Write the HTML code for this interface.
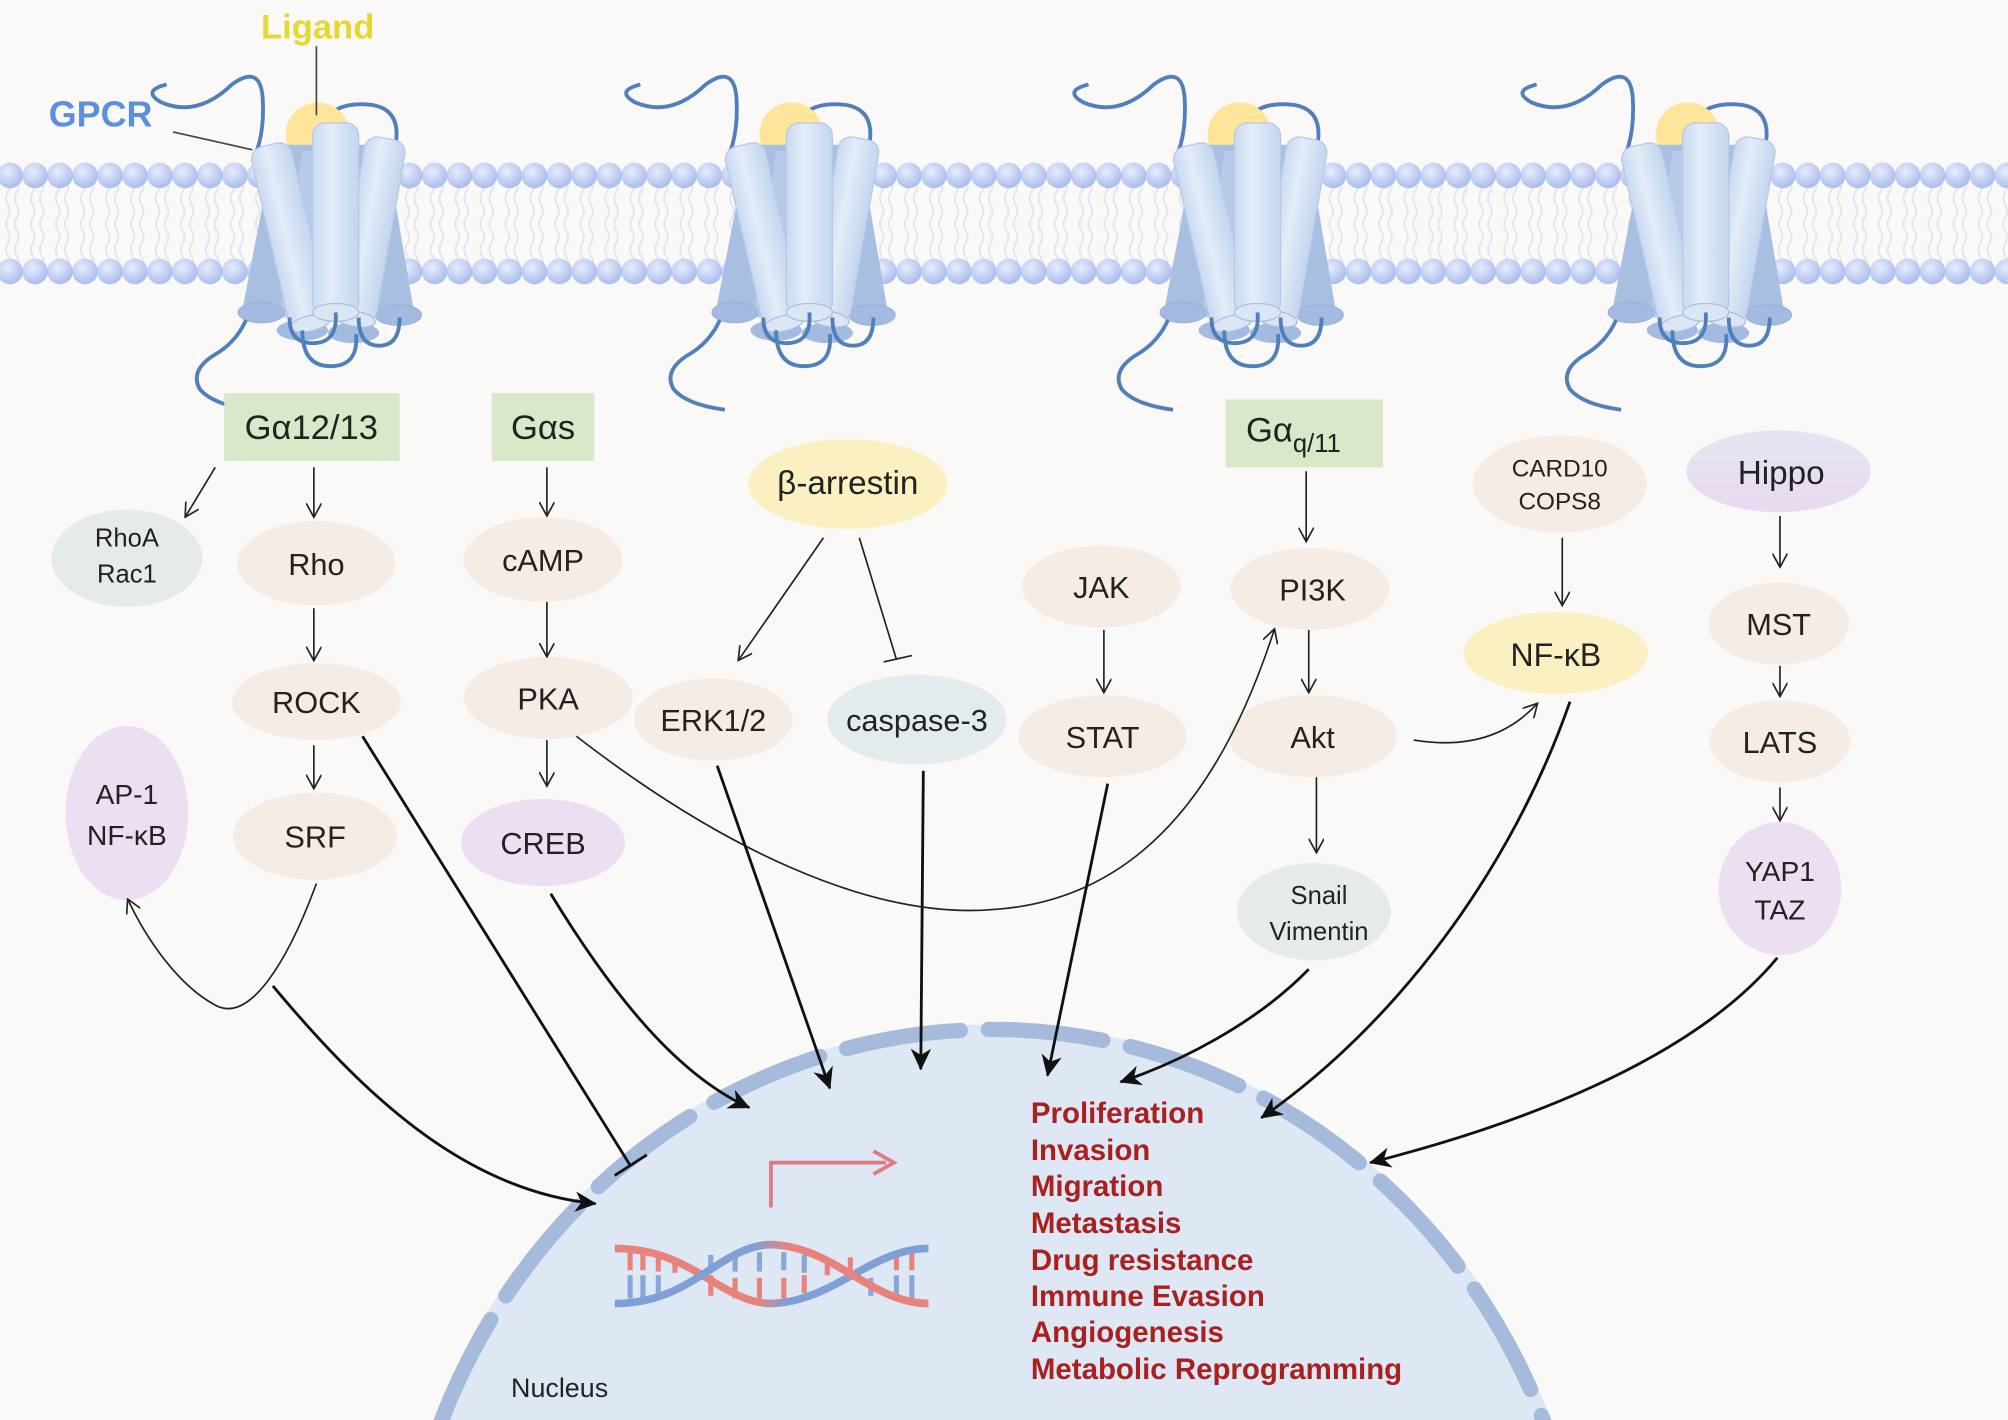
<!DOCTYPE html>
<html><head><meta charset="utf-8"><style>
html,body{margin:0;padding:0;background:#faf9f7;overflow:hidden;width:2008px;height:1420px;}
svg{display:block;overflow:hidden}
text{font-family:"Liberation Sans",Arial,sans-serif;}
</style></head><body>
<svg width="2008" height="1420" viewBox="0 0 1568 1109" xmlns="http://www.w3.org/2000/svg">
<defs>
<clipPath id="frame"><rect x="0" y="0" width="1568" height="1109"/></clipPath>
<radialGradient id="head" cx="40%" cy="35%" r="65%"><stop offset="0" stop-color="#e6edfd"/><stop offset="1" stop-color="#aabdec"/></radialGradient>
<pattern id="tails" x="0" y="0" width="19.5" height="60" patternUnits="userSpaceOnUse">
<path d="M6,0 q3,5 0,10 q-3,5 0,10 q3,5 0,10 q-3,5 0,10 q3,5 0,10 q-3,5 0,10" fill="none" stroke="#dfe3ee" stroke-width="1.3"/>
<path d="M13,0 q3,5 0,10 q-3,5 0,10 q3,5 0,10 q-3,5 0,10 q3,5 0,10 q-3,5 0,10" fill="none" stroke="#dfe3ee" stroke-width="1.3"/>
</pattern>
<pattern id="heads" x="-2" y="0" width="19.5" height="75" patternUnits="userSpaceOnUse">
<circle cx="9.75" cy="62" r="10" fill="url(#head)"/>
</pattern>
<linearGradient id="cyl" x1="0" x2="1"><stop offset="0" stop-color="#c9daf0"/><stop offset="0.4" stop-color="#e3ecf8"/><stop offset="1" stop-color="#c3d5ee"/></linearGradient>
<linearGradient id="hippo" x1="0" x2="0" y1="0" y2="1"><stop offset="0" stop-color="#e4e6f2"/><stop offset="1" stop-color="#e9d9ef"/></linearGradient>
<linearGradient id="dnaA" x1="0" x2="1"><stop offset="0" stop-color="#e8837c"/><stop offset="0.45" stop-color="#e8837c"/><stop offset="0.55" stop-color="#7f9fd6"/><stop offset="1" stop-color="#7f9fd6"/></linearGradient>
<linearGradient id="dnaB" x1="0" x2="1"><stop offset="0" stop-color="#7f9fd6"/><stop offset="0.45" stop-color="#7f9fd6"/><stop offset="0.55" stop-color="#e8837c"/><stop offset="1" stop-color="#e8837c"/></linearGradient>
<marker id="a" markerWidth="12" markerHeight="12" refX="10" refY="6" orient="auto" markerUnits="userSpaceOnUse"><path d="M0,0 L11,6 L0,12" fill="none" stroke="#222" stroke-width="1.3"/></marker>
<marker id="A" markerWidth="18" markerHeight="16" refX="16" refY="8" orient="auto" markerUnits="userSpaceOnUse"><path d="M0,0 L17,8 L0,16 L5,8 Z" fill="#111"/></marker>
<g id="rec">
 <path d="M-126,-62 q-20,5 -4,14 q28,12 55,-14 q22,-16 24,10 q2,30 -8,50" fill="none" stroke="#4f80bb" stroke-width="3"/>
 <path d="M-5,-30 q10,-20 40,-16 q22,4 18,30" fill="none" stroke="#4f80bb" stroke-width="3"/>
 <circle cx="-8" cy="-23" r="25" fill="#fde59a"/>
 <polygon points="-42,-15 45,-15 68,120 -68,120" fill="#a8bfe2"/>
 <polygon points="-20,-10 20,-10 40,120 -38,120" fill="#b7cbe8"/>
 <ellipse cx="-52" cy="116" rx="18" ry="8" fill="#a3bbe0" stroke="#9ab2da"/>
 <ellipse cx="55" cy="118" rx="18" ry="8" fill="#a3bbe0" stroke="#9ab2da"/>
 <ellipse cx="-20" cy="130" rx="20" ry="8" fill="#a3bbe0"/>
 <ellipse cx="20" cy="132" rx="20" ry="8" fill="#a3bbe0"/>
 <g transform="rotate(-13 -45 -15)"><rect x="-62" y="-15" width="32" height="145" rx="10" fill="url(#cyl)" stroke="#b6c9e6"/><ellipse cx="-46" cy="128" rx="16" ry="6" fill="#dbe6f5" stroke="#a9bfe0"/></g>
 <g transform="rotate(10 45 -20)"><rect x="30" y="-20" width="32" height="145" rx="10" fill="url(#cyl)" stroke="#b6c9e6"/><ellipse cx="46" cy="123" rx="16" ry="6" fill="#dbe6f5" stroke="#a9bfe0"/></g>
 <rect x="-12" y="-32" width="36" height="150" rx="10" fill="url(#cyl)" stroke="#b6c9e6"/>
 <ellipse cx="6" cy="116" rx="18" ry="7" fill="#dbe6f5" stroke="#a9bfe0"/>
 <path d="M-30,120 q0,20 18,20 q20,0 18,-24" fill="none" stroke="#4f80bb" stroke-width="3"/>
 <path d="M-20,130 q0,28 22,28 q22,0 20,-25" fill="none" stroke="#4f80bb" stroke-width="3"/>
 <path d="M24,120 q0,22 16,22 q16,0 16,-22" fill="none" stroke="#4f80bb" stroke-width="3"/>
 <path d="M-64,122 q-8,18 -26,28 q-18,12 -10,26 q10,12 40,16" fill="none" stroke="#4f80bb" stroke-width="3"/>
</g>
</defs>
<rect width="1568" height="1109" fill="#faf9f7"/>
<!-- membrane -->
<rect x="0" y="145" width="1568" height="62" fill="url(#tails)"/>
<rect x="0" y="125" width="1568" height="100" fill="url(#heads)"/>
<!-- receptors -->
<use href="#rec" x="256" y="128"/>
<use href="#rec" x="626" y="128"/>
<use href="#rec" x="976" y="128"/>
<use href="#rec" x="1326" y="128"/>
<!-- labels top -->
<text x="248" y="30" font-size="27" font-weight="bold" fill="#e6d735" text-anchor="middle">Ligand</text>
<line x1="247" y1="36" x2="247" y2="90" stroke="#444" stroke-width="1.3"/>
<text x="38" y="99" font-size="28" font-weight="bold" fill="#5b8fe2">GPCR</text>
<line x1="135" y1="103" x2="197" y2="117" stroke="#444" stroke-width="1.3"/>
<!-- nucleus -->
<g clip-path="url(#frame)">
<ellipse cx="775" cy="1292" rx="470" ry="492" fill="#dde8f4"/>
<ellipse cx="775" cy="1292" rx="464" ry="488" fill="none" stroke="#a6bbdc" stroke-width="12" stroke-dasharray="90 22" stroke-linecap="round"/>
</g>
<text x="399" y="1091" font-size="21" fill="#222">Nucleus</text>
<!-- DNA -->
<g stroke-width="4">
 <g stroke="#e8837c"><path d="M492,978v14M502,978v14M514,980v13M527,984v10M646,982v14M664,982v14M700,978v14M712,978v14M555,996v16M574,998v16M593,998v16M612,998v16M628,996v14"/></g>
 <g stroke="#8aa5d8"><path d="M492,996v18M502,996v18M514,996v16M555,980v14M574,978v15M593,978v15M612,978v14M628,980v14M680,998v14M700,996v18M712,996v18"/></g>
</g>
<path d="M480,975 C540,975 560,1015 600,1018 C650,1018 680,975 725,975" fill="none" stroke="url(#dnaA)" stroke-width="6"/>
<path d="M480,1018 C540,1018 560,975 600,972 C650,972 680,1018 725,1018" fill="none" stroke="url(#dnaB)" stroke-width="6"/>
<path d="M602,943 V908 H692" fill="none" stroke="#e07a85" stroke-width="3"/>
<path d="M682,899 L698,908 L682,917" fill="none" stroke="#e07a85" stroke-width="3"/>
<!-- outcomes -->
<g font-size="23" font-weight="bold" fill="#a8201f">
<text x="805" y="877">Proliferation</text>
<text x="805" y="906">Invasion</text>
<text x="805" y="934">Migration</text>
<text x="805" y="963">Metastasis</text>
<text x="805" y="992">Drug resistance</text>
<text x="805" y="1020">Immune Evasion</text>
<text x="805" y="1048">Angiogenesis</text>
<text x="805" y="1077">Metabolic Reprogramming</text>
</g>
<!-- G proteins -->
<rect x="175" y="307" width="137" height="53" fill="#d8e8c9"/>
<text x="243" y="343" font-size="27" text-anchor="middle" fill="#222">Gα12/13</text>
<rect x="384" y="307" width="80" height="53" fill="#d8e8c9"/>
<text x="424" y="343" font-size="27" text-anchor="middle" fill="#222">Gαs</text>
<rect x="957" y="312" width="123" height="53" fill="#d8e8c9"/>
<text x="973" y="345" font-size="27" fill="#222">Gα<tspan font-size="20" dy="8">q/11</tspan></text>
<!-- nodes -->
<g fill="#222" font-size="24" text-anchor="middle">
<ellipse cx="662" cy="378" rx="78" ry="35" fill="#fbf0c2"/><text x="662" y="386" font-size="26">β-arrestin</text>
<ellipse cx="99" cy="436" rx="59" ry="38" fill="#e5ebea"/><text x="99" y="427" font-size="20">RhoA</text><text x="99" y="455" font-size="20">Rac1</text>
<ellipse cx="247" cy="440" rx="62" ry="33" fill="#f6ece6"/><text x="247" y="449">Rho</text>
<ellipse cx="424" cy="437" rx="62" ry="33" fill="#f6ece6"/><text x="424" y="446">cAMP</text>
<ellipse cx="860" cy="458" rx="62" ry="32" fill="#f6ece6"/><text x="860" y="467">JAK</text>
<ellipse cx="1023" cy="460" rx="62" ry="32" fill="#f6ece6"/><text x="1025" y="469">PI3K</text>
<ellipse cx="1218" cy="378" rx="68" ry="38" fill="#f6ece6"/><text x="1218" y="372" font-size="19">CARD10</text><text x="1218" y="398" font-size="19">COPS8</text>
<ellipse cx="1389" cy="368" rx="72" ry="32" fill="url(#hippo)"/><text x="1391" y="378" font-size="26">Hippo</text>
<ellipse cx="1215" cy="510" rx="72" ry="32" fill="#fbf0c2"/><text x="1215" y="520" font-size="25">NF-κB</text>
<ellipse cx="1389" cy="487" rx="55" ry="32" fill="#f6ece6"/><text x="1389" y="496">MST</text>
<ellipse cx="247" cy="548" rx="66" ry="30" fill="#f6ece6"/><text x="247" y="557">ROCK</text>
<ellipse cx="428" cy="545" rx="66" ry="32" fill="#f6ece6"/><text x="428" y="554">PKA</text>
<ellipse cx="557" cy="562" rx="62" ry="32" fill="#f6ece6"/><text x="557" y="571">ERK1/2</text>
<ellipse cx="716" cy="562" rx="70" ry="35" fill="#e4ebef"/><text x="716" y="571">caspase-3</text>
<ellipse cx="861" cy="575" rx="66" ry="32" fill="#f6ece6"/><text x="861" y="584">STAT</text>
<ellipse cx="1025" cy="575" rx="66" ry="32" fill="#f6ece6"/><text x="1025" y="584">Akt</text>
<ellipse cx="1390" cy="579" rx="55" ry="32" fill="#f6ece6"/><text x="1390" y="588">LATS</text>
<ellipse cx="99" cy="635" rx="48" ry="68" fill="#ebdff1"/><text x="99" y="628" font-size="22">AP-1</text><text x="99" y="660" font-size="22">NF-κB</text>
<ellipse cx="246" cy="653" rx="64" ry="34" fill="#f6ece6"/><text x="246" y="662">SRF</text>
<ellipse cx="424" cy="658" rx="64" ry="34" fill="#ebdff1"/><text x="424" y="667">CREB</text>
<ellipse cx="1026" cy="712" rx="60" ry="38" fill="#e5ebea"/><text x="1030" y="706" font-size="20">Snail</text><text x="1030" y="734" font-size="20">Vimentin</text>
<ellipse cx="1390" cy="694" rx="48" ry="52" fill="#ebdff1"/><text x="1390" y="688" font-size="22">YAP1</text><text x="1390" y="718" font-size="22">TAZ</text>
</g>
<!-- thin arrows -->
<g stroke="#222" stroke-width="1.3" fill="none" marker-end="url(#a)">
<path d="M168,365 L145,403"/>
<path d="M245,365 V403"/>
<path d="M427,365 V402"/>
<path d="M427,470 V512"/>
<path d="M427,578 V613"/>
<path d="M245,475 V515"/>
<path d="M245,582 V615"/>
<path d="M643,420 L577,515"/>
<path d="M862,492 V540"/>
<path d="M1020,368 V422"/>
<path d="M1022,492 V540"/>
<path d="M1028,607 V665"/>
<path d="M1104,578 Q1165,588 1200,550"/>
<path d="M1220,420 V472"/>
<path d="M1390,403 V442"/>
<path d="M1390,520 V543"/>
<path d="M1390,615 V640"/>
<path d="M450,575 C560,660 680,720 780,710 C900,700 960,600 995,492"/>
<path d="M247,690 C225,750 195,800 168,785 C140,770 115,735 100,703"/>
</g>
<path d="M671,420 L700,515 M690,517 L712,512" stroke="#222" stroke-width="1.3" fill="none"/>
<!-- thick arrows -->
<g stroke="#111" stroke-width="2.2" fill="none" marker-end="url(#A)">
<path d="M213,770 C280,850 360,930 465,940"/>
<path d="M430,698 C480,780 530,840 585,865"/>
<path d="M560,598 L648,850"/>
<path d="M721,602 L719,835"/>
<path d="M865,612 L818,840"/>
<path d="M1022,757 C980,800 920,830 875,845"/>
<path d="M1226,548 C1180,680 1090,800 985,873"/>
<path d="M1388,748 C1320,830 1180,880 1070,908"/>
</g>
<path d="M283,575 L492,910 M480,918 L505,902" stroke="#111" stroke-width="2.2" fill="none"/>
</svg>
</body></html>
